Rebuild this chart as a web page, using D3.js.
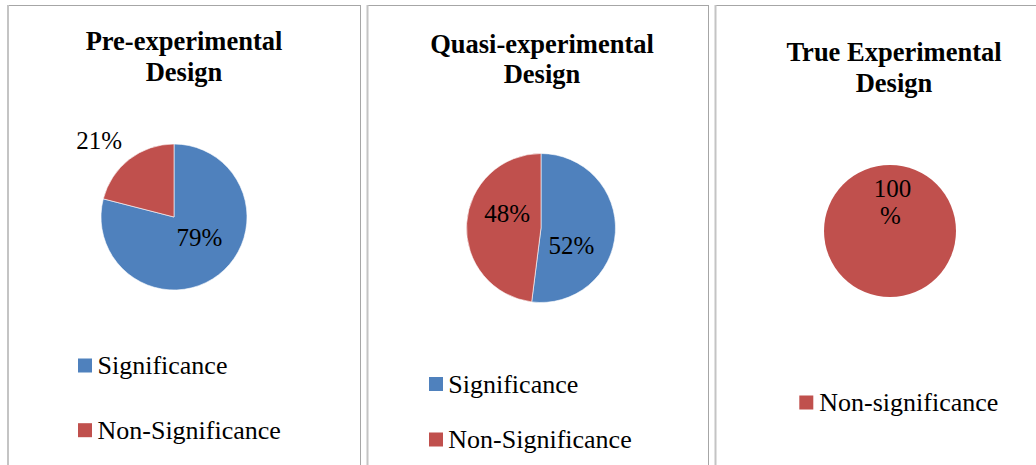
<!DOCTYPE html>
<html>
<head>
<meta charset="utf-8">
<script src="https://cdn.jsdelivr.net/npm/d3@7"></script>
<style>
  html, body { margin: 0; padding: 0; background: #ffffff; }
  svg { display: block; }
</style>
</head>
<body>
<svg id="chart" width="1036" height="465"></svg>
<script>
// ---- data ----
const chartTitles = [
  ["Pre-experimental", "Design"],
  ["Quasi-experimental", "Design"],
  ["True Experimental", "Design"]
];
const categories1 = ["Significance", "Non-Significance"];
const values1 = [79, 21];
const categories2 = ["Significance", "Non-Significance"];
const values2 = [52, 48];
const categories3 = ["Non-significance"];
const values3 = [100];

const colorOf = {
  "Significance": "#4F81BD",
  "Non-Significance": "#C0504D",
  "Non-significance": "#C0504D"
};

// ---- layout (positions only) ----
const layout = [
  { left: 8, right: 360.5, cx: 174, cy: 217, r: 73, tx: 184, tY: [50, 80.7],
    legX: 78, legTextX: 97.5, legY: [374, 438.7],
    labelOff: [[3, 0], [-52.4, -38.9]], wrap: false },
  { left: 367.5, right: 708.5, cx: 541, cy: 228, r: 74.5, tx: 542, tY: [53, 83.3],
    legX: 429, legTextX: 448.3, legY: [392.5, 448],
    labelOff: [[-6.7, 23.7], [3.2, -4]], wrap: false },
  { left: 715.5, right: null, cx: 890, cy: 231, r: 66, tx: 894, tY: [60.7, 91.7],
    legX: 799.3, legTextX: 819.3, legY: [411],
    labelOff: [[2.5, -67.3]], wrap: true }
];

const panels = [
  { cats: categories1, vals: values1 },
  { cats: categories2, vals: values2 },
  { cats: categories3, vals: values3 }
];

const FONT = '"Liberation Serif", Tinos, "Times New Roman", serif';
const svg = d3.select("#chart");

// panel borders
layout.forEach(L => {
  const rightX = L.right === null ? 1036 : L.right;
  svg.append("line").attr("x1", L.left).attr("x2", rightX)
    .attr("y1", 5.5).attr("y2", 5.5)
    .attr("stroke", "#a6a6a6").attr("stroke-width", 1);
  svg.append("line").attr("x1", L.left).attr("x2", L.left)
    .attr("y1", 5).attr("y2", 465)
    .attr("stroke", "#c4c4c4").attr("stroke-width", 2);
  if (L.right !== null) {
    svg.append("line").attr("x1", L.right).attr("x2", L.right)
      .attr("y1", 5).attr("y2", 465)
      .attr("stroke", "#a6a6a6").attr("stroke-width", 1);
  }
});

const pie = d3.pie().sort(null).value(d => d);

panels.forEach((P, i) => {
  const L = layout[i];
  const g = svg.append("g");

  // title
  chartTitles[i].forEach((t, j) => {
    g.append("text")
      .attr("x", L.tx).attr("y", L.tY[j])
      .attr("text-anchor", "middle")
      .style("font-family", FONT)
      .style("font-weight", "bold")
      .style("font-size", "26.5px")
      .attr("fill", "#000")
      .text(t);
  });

  const color = d3.scaleOrdinal().domain(P.cats).range(P.cats.map(c => colorOf[c]));
  const arcs = pie(P.vals);
  const arc = d3.arc().innerRadius(0).outerRadius(L.r);
  const labelArc = d3.arc().innerRadius(L.r * 0.5).outerRadius(L.r * 0.5);

  const pg = g.append("g").attr("transform", `translate(${L.cx},${L.cy})`);
  pg.selectAll("path").data(arcs).enter().append("path")
    .attr("d", arc)
    .attr("fill", (d, k) => color(P.cats[k]))
    .attr("stroke", arcs.length > 1 ? "#ffffff" : "none")
    .attr("stroke-width", 0.6);

  arcs.forEach((d, k) => {
    const c = labelArc.centroid(d);
    const x = c[0] + L.labelOff[k][0];
    const y = c[1] + L.labelOff[k][1];
    const label = d.data + "%";
    const txt = pg.append("text")
      .attr("text-anchor", "middle")
      .style("font-family", FONT)
      .style("font-size", "25px")
      .attr("fill", "#000");
    if (L.wrap) {
      const a = label.slice(0, -1), b = label.slice(-1);
      txt.append("tspan").attr("x", x).attr("y", y).text(a);
      txt.append("tspan").attr("x", x - 2).attr("y", y + 27.3).text(b);
    } else {
      txt.attr("x", x).attr("y", y).text(label);
    }
  });

  // legend
  P.cats.forEach((c, k) => {
    const by = L.legY[k];
    g.append("rect")
      .attr("x", L.legX).attr("y", by - 15.5)
      .attr("width", 14).attr("height", 14)
      .attr("fill", color(c));
    g.append("text")
      .attr("x", L.legTextX).attr("y", by)
      .style("font-family", FONT)
      .style("font-size", "26px")
      .attr("fill", "#000")
      .text(c);
  });
});
</script>
</body>
</html>
